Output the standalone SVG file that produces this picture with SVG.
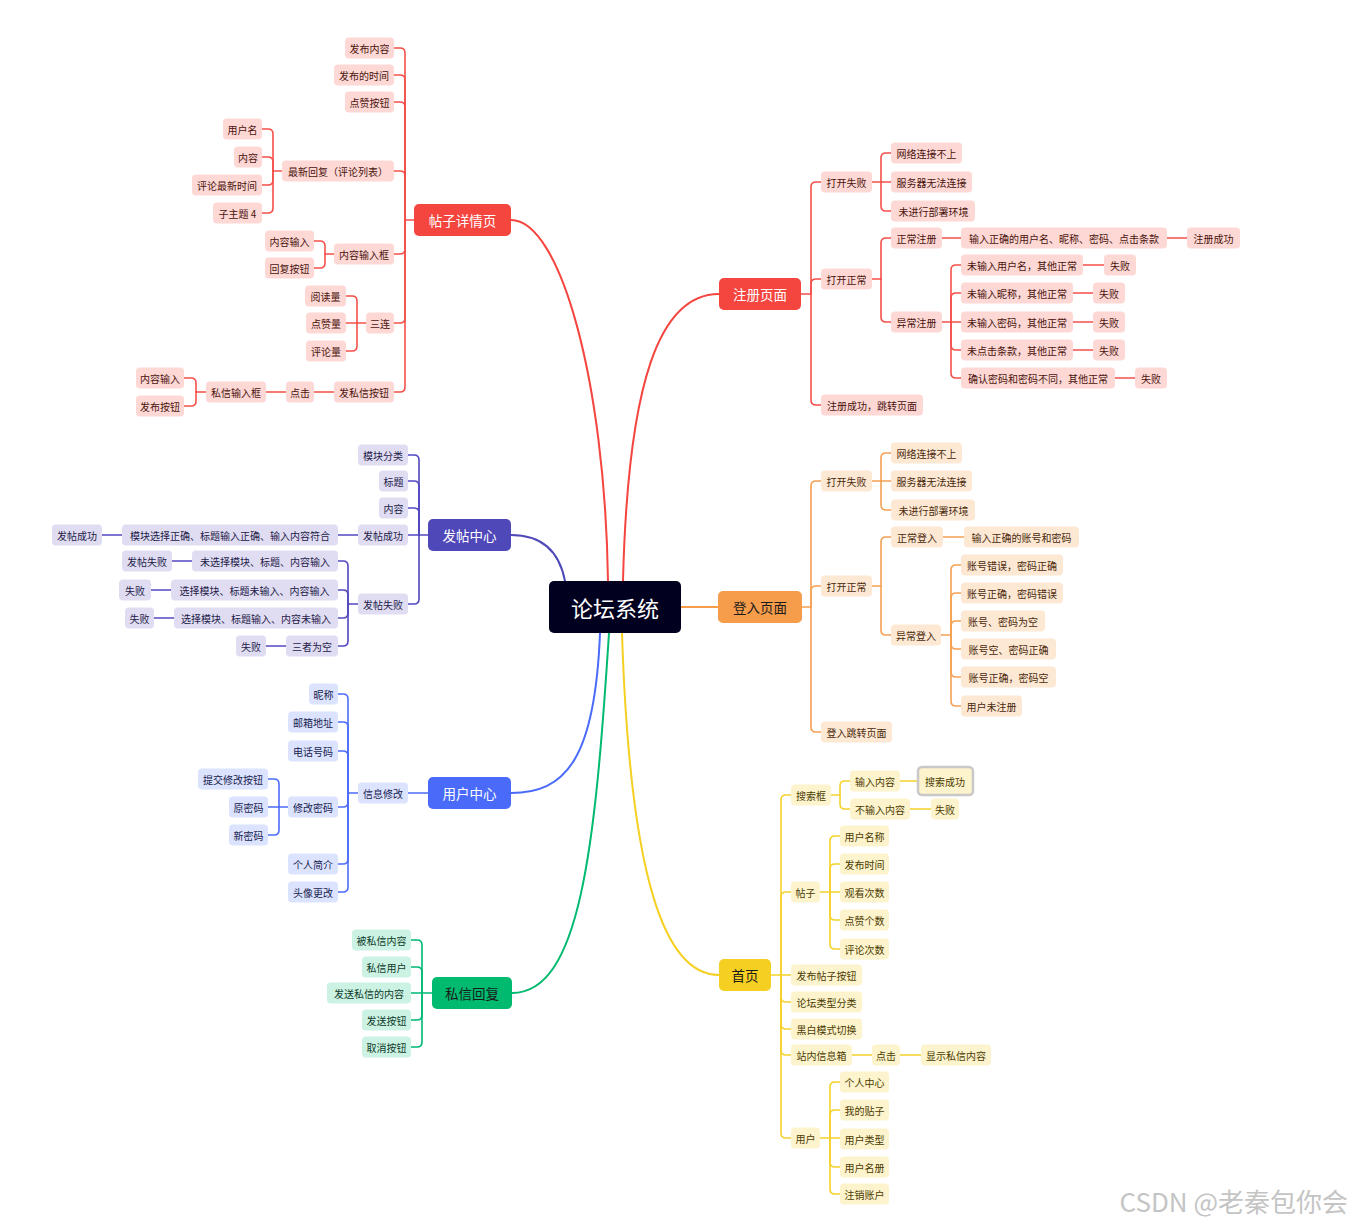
<svg xmlns="http://www.w3.org/2000/svg" width="1352" height="1224" viewBox="0 0 1352 1224">
<style>
text{font-family:"Noto Sans CJK SC","Noto Sans",sans-serif;font-size:10px;text-anchor:middle;dominant-baseline:central}
.s rect{rx:4;ry:4}
.r rect{fill:#fdd8d5}.r text{fill:#4a130c}
.o rect{fill:#fde8d4}.o text{fill:#4a2a0c}
.p rect{fill:#e0ddf3}.p text{fill:#1e1a48}
.b rect{fill:#dce3fe}.b text{fill:#17224f}
.g rect{fill:#ccf2e3}.g text{fill:#0c3a29}
.y rect{fill:#fdf3cc}.y text{fill:#4a3b00}
.m rect{rx:5;ry:5}.m text{font-size:13.5px}
.lw text{fill:#fff}.ld text{fill:#1a1a1a}
#conn path{fill:none;stroke-width:1.6;stroke-linecap:round}
#conn .cr path{stroke:#f4504a}#conn .co path{stroke:#f5a154}#conn .cp path{stroke:#5147c0}
#conn .cb path{stroke:#4d6cfa}#conn .cg path{stroke:#00b874}#conn .cy path{stroke:#f5d22b}
#conn .main path{stroke-width:2}
</style>
<rect width="1352" height="1224" fill="#fff"/>
<g id="conn">
<g class="main">
<path d="M608 581C605 380 560 220 511 220" stroke="#f4453f"/>
<path d="M623 581C628 380 660 294 719 294" stroke="#f4453f"/>
<path d="M565 581C560 555 545 535 511 535" stroke="#4f48b9"/>
<path d="M681 607H718" stroke="#f59d4b"/>
<path d="M600 633C595 760 565 793 511 793" stroke="#4a6bfa"/>
<path d="M609 633C595 850 580 993 512 993" stroke="#00ba6f"/>
<path d="M622 633C630 880 665 975 719 975" stroke="#f5d023"/>
</g>
<g class="cr">
<path d="M414 220H405"/>
<path d="M405 220V53Q405 48 400 48H394"/>
<path d="M405 220V80Q405 75 400 75H394"/>
<path d="M405 220V107Q405 102 400 102H394"/>
<path d="M405 220V176Q405 171 400 171H394"/>
<path d="M405 220V249Q405 254 400 254H394"/>
<path d="M405 220V318Q405 323 400 323H394"/>
<path d="M405 220V387Q405 392 400 392H394"/>
<path d="M282 171H273"/>
<path d="M273 171V134Q273 129 268 129H262"/>
<path d="M273 171V162Q273 157 268 157H262"/>
<path d="M273 171V180Q273 185 268 185H262"/>
<path d="M273 171V208Q273 213 268 213H262"/>
<path d="M334 254H325"/>
<path d="M325 254V246Q325 241 320 241H314"/>
<path d="M325 254V263Q325 268 320 268H314"/>
<path d="M366 323H346"/>
<path d="M357 323V301Q357 296 352 296H346"/>
<path d="M357 323V346Q357 351 352 351H346"/>
<path d="M334 392H314"/>
<path d="M286 392H266"/>
<path d="M206 392H196"/>
<path d="M196 392V383Q196 378 191 378H184"/>
<path d="M196 392V401Q196 406 191 406H184"/>
<path d="M801 294H811"/>
<path d="M811 294V187Q811 182 816 182H821"/>
<path d="M811 294V284Q811 279 816 279H821"/>
<path d="M811 294V400Q811 405 816 405H821"/>
<path d="M872 182H891"/>
<path d="M881 182V158Q881 153 886 153H891"/>
<path d="M881 182V206Q881 211 886 211H891"/>
<path d="M872 279H881"/>
<path d="M881 279V243Q881 238 886 238H891"/>
<path d="M881 279V317Q881 322 886 322H891"/>
<path d="M942 238H961"/>
<path d="M1167 238H1187"/>
<path d="M942 322H961"/>
<path d="M951 322V270Q951 265 956 265H961"/>
<path d="M951 322V298Q951 293 956 293H961"/>
<path d="M951 322V345Q951 350 956 350H961"/>
<path d="M951 322V373Q951 378 956 378H961"/>
<path d="M1083 265H1104"/>
<path d="M1073 293H1093"/>
<path d="M1073 322H1093"/>
<path d="M1073 350H1093"/>
<path d="M1115 378H1135"/>
</g>
<g class="co">
<path d="M802 607H811"/>
<path d="M811 607V486Q811 481 816 481H821"/>
<path d="M811 607V591Q811 586 816 586H821"/>
<path d="M811 607V727Q811 732 816 732H821"/>
<path d="M872 481H891"/>
<path d="M881 481V458Q881 453 886 453H891"/>
<path d="M881 481V505Q881 510 886 510H891"/>
<path d="M872 586H881"/>
<path d="M881 586V542Q881 537 886 537H891"/>
<path d="M881 586V630Q881 635 886 635H891"/>
<path d="M943 537H964"/>
<path d="M941 635H951"/>
<path d="M951 635V570Q951 565 956 565H961"/>
<path d="M951 635V598Q951 593 956 593H961"/>
<path d="M951 635V626Q951 621 956 621H961"/>
<path d="M951 635V644Q951 649 956 649H961"/>
<path d="M951 635V672Q951 677 956 677H961"/>
<path d="M951 635V701Q951 706 956 706H961"/>
</g>
<g class="cp">
<path d="M428 535H408"/>
<path d="M419 535V460Q419 455 414 455H408"/>
<path d="M419 535V486Q419 481 414 481H408"/>
<path d="M419 535V513Q419 508 414 508H408"/>
<path d="M419 535V599Q419 604 414 604H408"/>
<path d="M358 535H338"/>
<path d="M122 535H102"/>
<path d="M358 604H348"/>
<path d="M348 604V566Q348 561 343 561H338"/>
<path d="M348 604V595Q348 590 343 590H338"/>
<path d="M348 604V613Q348 618 343 618H338"/>
<path d="M348 604V641Q348 646 343 646H338"/>
<path d="M192 561H172"/>
<path d="M171 590H151"/>
<path d="M174 618H154"/>
<path d="M286 646H266"/>
</g>
<g class="cb">
<path d="M428 793H408"/>
<path d="M358 793H348"/>
<path d="M348 793V699Q348 694 343 694H338"/>
<path d="M348 793V727Q348 722 343 722H338"/>
<path d="M348 793V756Q348 751 343 751H338"/>
<path d="M348 793V802Q348 807 343 807H338"/>
<path d="M348 793V859Q348 864 343 864H338"/>
<path d="M348 793V887Q348 892 343 892H338"/>
<path d="M288 807H268"/>
<path d="M279 807V784Q279 779 274 779H268"/>
<path d="M279 807V830Q279 835 274 835H268"/>
</g>
<g class="cg">
<path d="M432 993H411"/>
<path d="M422 993V945Q422 940 417 940H411"/>
<path d="M422 993V972Q422 967 417 967H411"/>
<path d="M422 993V1015Q422 1020 417 1020H411"/>
<path d="M422 993V1042Q422 1047 417 1047H411"/>
</g>
<g class="cy">
<path d="M771 975H791"/>
<path d="M781 975V800Q781 795 786 795H791"/>
<path d="M781 975V897Q781 892 786 892H791"/>
<path d="M781 975V997Q781 1002 786 1002H791"/>
<path d="M781 975V1024Q781 1029 786 1029H791"/>
<path d="M781 975V1050Q781 1055 786 1055H791"/>
<path d="M781 975V1133Q781 1138 786 1138H791"/>
<path d="M831 795H840"/>
<path d="M840 795V786Q840 781 845 781H850"/>
<path d="M840 795V804Q840 809 845 809H850"/>
<path d="M900 781H917"/>
<path d="M910 809H931"/>
<path d="M820 892H840"/>
<path d="M830 892V841Q830 836 835 836H840"/>
<path d="M830 892V869Q830 864 835 864H840"/>
<path d="M830 892V915Q830 920 835 920H840"/>
<path d="M830 892V944Q830 949 835 949H840"/>
<path d="M852 1055H872"/>
<path d="M900 1055H921"/>
<path d="M820 1138H840"/>
<path d="M830 1138V1087Q830 1082 835 1082H840"/>
<path d="M830 1138V1115Q830 1110 835 1110H840"/>
<path d="M830 1138V1162Q830 1167 835 1167H840"/>
<path d="M830 1138V1189Q830 1194 835 1194H840"/>
</g>
</g>

<g id="root"><rect x="549" y="581" width="132" height="52" rx="5" fill="#02001f"/><text x="615" y="607" style="font-size:22px" fill="#fff">论坛系统</text></g>

<g id="m_tzxq" class="m lw"><rect x="414" y="204" width="97" height="32" fill="#f4453f"/><text x="462.5" y="220">帖子详情页</text></g>
<g id="m_zcym" class="m lw"><rect x="719" y="278" width="82" height="32" fill="#f4453f"/><text x="760" y="294">注册页面</text></g>
<g id="m_ftzx" class="m lw"><rect x="428" y="519" width="83" height="32" fill="#4f48b9"/><text x="469.5" y="535">发帖中心</text></g>
<g id="m_drym" class="m ld"><rect x="718" y="591" width="84" height="32" fill="#f59d4b"/><text x="760" y="607">登入页面</text></g>
<g id="m_yhzx" class="m lw"><rect x="428" y="777" width="83" height="32" fill="#4a6bfa"/><text x="469.5" y="793">用户中心</text></g>
<g id="m_sxhf" class="m ld"><rect x="432" y="977" width="80" height="32" fill="#00ba6f"/><text x="472" y="993">私信回复</text></g>
<g id="m_sy" class="m ld"><rect x="719" y="959" width="52" height="32" fill="#f5d023"/><text x="745" y="975">首页</text></g>

<g class="s r">
<g id="r1"><rect x="345" y="37.5" width="49" height="21"/><text x="369.5" y="48">发布内容</text></g>
<g id="r2"><rect x="334" y="64.5" width="60" height="21"/><text x="364" y="75">发布的时间</text></g>
<g id="r3"><rect x="345" y="91.5" width="49" height="21"/><text x="369.5" y="102">点赞按钮</text></g>
<g id="r4"><rect x="282" y="160.5" width="112" height="21"/><text x="338" y="171">最新回复（评论列表）</text></g>
<g id="r5"><rect x="223" y="118.5" width="39" height="21"/><text x="242.5" y="129">用户名</text></g>
<g id="r6"><rect x="234" y="146.5" width="28" height="21"/><text x="248" y="157">内容</text></g>
<g id="r7"><rect x="192" y="174.5" width="70" height="21"/><text x="227" y="185">评论最新时间</text></g>
<g id="r8"><rect x="213" y="202.5" width="49" height="21"/><text x="237.5" y="213">子主题 4</text></g>
<g id="r9"><rect x="334" y="243.5" width="60" height="21"/><text x="364" y="254">内容输入框</text></g>
<g id="r10"><rect x="265" y="230.5" width="49" height="21"/><text x="289.5" y="241">内容输入</text></g>
<g id="r11"><rect x="265" y="257.5" width="49" height="21"/><text x="289.5" y="268">回复按钮</text></g>
<g id="r12"><rect x="366" y="312.5" width="28" height="21"/><text x="380" y="323">三连</text></g>
<g id="r13"><rect x="305" y="285.5" width="41" height="21"/><text x="325.5" y="296">阅读量</text></g>
<g id="r14"><rect x="306" y="312.5" width="40" height="21"/><text x="326" y="323">点赞量</text></g>
<g id="r15"><rect x="306" y="340.5" width="40" height="21"/><text x="326" y="351">评论量</text></g>
<g id="r16"><rect x="334" y="381.5" width="60" height="21"/><text x="364" y="392">发私信按钮</text></g>
<g id="r17"><rect x="286" y="381.5" width="28" height="21"/><text x="300" y="392">点击</text></g>
<g id="r18"><rect x="206" y="381.5" width="60" height="21"/><text x="236" y="392">私信输入框</text></g>
<g id="r19"><rect x="136" y="367.5" width="48" height="21"/><text x="160" y="378">内容输入</text></g>
<g id="r20"><rect x="136" y="395.5" width="48" height="21"/><text x="160" y="406">发布按钮</text></g>

<g id="r21"><rect x="821" y="171.5" width="51" height="21"/><text x="846.5" y="182">打开失败</text></g>
<g id="r22"><rect x="891" y="142.5" width="71" height="21"/><text x="926.5" y="153">网络连接不上</text></g>
<g id="r23"><rect x="891" y="171.5" width="81" height="21"/><text x="931.5" y="182">服务器无法连接</text></g>
<g id="r24"><rect x="891" y="200.5" width="84" height="21"/><text x="933.5" y="211">未进行部署环境</text></g>
<g id="r25"><rect x="821" y="268.5" width="51" height="21"/><text x="846.5" y="279">打开正常</text></g>
<g id="r26"><rect x="891" y="227.5" width="51" height="21"/><text x="916.5" y="238">正常注册</text></g>
<g id="r27"><rect x="961" y="227.5" width="206" height="21"/><text x="1064" y="238">输入正确的用户名、昵称、密码、点击条款</text></g>
<g id="r28"><rect x="1187" y="227.5" width="53" height="21"/><text x="1213.5" y="238">注册成功</text></g>
<g id="r29"><rect x="891" y="311.5" width="51" height="21"/><text x="916.5" y="322">异常注册</text></g>
<g id="r30"><rect x="961" y="254.5" width="122" height="21"/><text x="1022" y="265">未输入用户名，其他正常</text></g>
<g id="r31"><rect x="1104" y="254.5" width="32" height="21"/><text x="1120" y="265">失败</text></g>
<g id="r32"><rect x="961" y="282.5" width="112" height="21"/><text x="1017" y="293">未输入昵称，其他正常</text></g>
<g id="r33"><rect x="1093" y="282.5" width="32" height="21"/><text x="1109" y="293">失败</text></g>
<g id="r34"><rect x="961" y="311.5" width="112" height="21"/><text x="1017" y="322">未输入密码，其他正常</text></g>
<g id="r35"><rect x="1093" y="311.5" width="32" height="21"/><text x="1109" y="322">失败</text></g>
<g id="r36"><rect x="961" y="339.5" width="112" height="21"/><text x="1017" y="350">未点击条款，其他正常</text></g>
<g id="r37"><rect x="1093" y="339.5" width="32" height="21"/><text x="1109" y="350">失败</text></g>
<g id="r38"><rect x="961" y="367.5" width="154" height="21"/><text x="1038" y="378">确认密码和密码不同，其他正常</text></g>
<g id="r39"><rect x="1135" y="367.5" width="32" height="21"/><text x="1151" y="378">失败</text></g>
<g id="r40"><rect x="821" y="394.5" width="102" height="21"/><text x="872" y="405">注册成功，跳转页面</text></g>
</g>

<g class="s o">
<g id="o1"><rect x="821" y="470.5" width="51" height="21"/><text x="846.5" y="481">打开失败</text></g>
<g id="o2"><rect x="891" y="442.5" width="71" height="21"/><text x="926.5" y="453">网络连接不上</text></g>
<g id="o3"><rect x="891" y="470.5" width="81" height="21"/><text x="931.5" y="481">服务器无法连接</text></g>
<g id="o4"><rect x="891" y="499.5" width="84" height="21"/><text x="933.5" y="510">未进行部署环境</text></g>
<g id="o5"><rect x="821" y="575.5" width="51" height="21"/><text x="846.5" y="586">打开正常</text></g>
<g id="o6"><rect x="891" y="526.5" width="52" height="21"/><text x="917" y="537">正常登入</text></g>
<g id="o7"><rect x="964" y="526.5" width="115" height="21"/><text x="1021.5" y="537">输入正确的账号和密码</text></g>
<g id="o8"><rect x="891" y="624.5" width="50" height="21"/><text x="916" y="635">异常登入</text></g>
<g id="o9"><rect x="961" y="554.5" width="102" height="21"/><text x="1012" y="565">账号错误，密码正确</text></g>
<g id="o10"><rect x="961" y="582.5" width="102" height="21"/><text x="1012" y="593">账号正确，密码错误</text></g>
<g id="o11"><rect x="961" y="610.5" width="84" height="21"/><text x="1003" y="621">账号、密码为空</text></g>
<g id="o12"><rect x="961" y="638.5" width="95" height="21"/><text x="1008.5" y="649">账号空、密码正确</text></g>
<g id="o13"><rect x="961" y="666.5" width="95" height="21"/><text x="1008.5" y="677">账号正确，密码空</text></g>
<g id="o14"><rect x="961" y="695.5" width="61" height="21"/><text x="991.5" y="706">用户未注册</text></g>
<g id="o15"><rect x="821" y="721.5" width="71" height="21"/><text x="856.5" y="732">登入跳转页面</text></g>
</g>

<g class="s p">
<g id="p1"><rect x="358" y="444.5" width="50" height="21"/><text x="383" y="455">模块分类</text></g>
<g id="p2"><rect x="379" y="470.5" width="29" height="21"/><text x="393.5" y="481">标题</text></g>
<g id="p3"><rect x="379" y="497.5" width="29" height="21"/><text x="393.5" y="508">内容</text></g>
<g id="p4"><rect x="358" y="524.5" width="50" height="21"/><text x="383" y="535">发帖成功</text></g>
<g id="p5"><rect x="122" y="524.5" width="216" height="21"/><text x="230" y="535">模块选择正确、标题输入正确、输入内容符合</text></g>
<g id="p6"><rect x="52" y="524.5" width="50" height="21"/><text x="77" y="535">发帖成功</text></g>
<g id="p7"><rect x="358" y="593.5" width="50" height="21"/><text x="383" y="604">发帖失败</text></g>
<g id="p8"><rect x="192" y="550.5" width="146" height="21"/><text x="265" y="561">未选择模块、标题、内容输入</text></g>
<g id="p9"><rect x="122" y="550.5" width="50" height="21"/><text x="147" y="561">发帖失败</text></g>
<g id="p10"><rect x="171" y="579.5" width="167" height="21"/><text x="254.5" y="590">选择模块、标题未输入、内容输入</text></g>
<g id="p11"><rect x="119" y="579.5" width="32" height="21"/><text x="135" y="590">失败</text></g>
<g id="p12"><rect x="174" y="607.5" width="164" height="21"/><text x="256" y="618">选择模块、标题输入、内容未输入</text></g>
<g id="p13"><rect x="125" y="607.5" width="29" height="21"/><text x="139.5" y="618">失败</text></g>
<g id="p14"><rect x="286" y="635.5" width="52" height="21"/><text x="312" y="646">三者为空</text></g>
<g id="p15"><rect x="236" y="635.5" width="30" height="21"/><text x="251" y="646">失败</text></g>
</g>

<g class="s b">
<g id="b1"><rect x="358" y="782.5" width="50" height="21"/><text x="383" y="793">信息修改</text></g>
<g id="b2"><rect x="309" y="683.5" width="29" height="21"/><text x="323.5" y="694">昵称</text></g>
<g id="b3"><rect x="288" y="711.5" width="50" height="21"/><text x="313" y="722">邮箱地址</text></g>
<g id="b4"><rect x="288" y="740.5" width="50" height="21"/><text x="313" y="751">电话号码</text></g>
<g id="b5"><rect x="288" y="796.5" width="50" height="21"/><text x="313" y="807">修改密码</text></g>
<g id="b6"><rect x="288" y="853.5" width="50" height="21"/><text x="313" y="864">个人简介</text></g>
<g id="b7"><rect x="288" y="881.5" width="50" height="21"/><text x="313" y="892">头像更改</text></g>
<g id="b8"><rect x="198" y="768.5" width="70" height="21"/><text x="233" y="779">提交修改按钮</text></g>
<g id="b9"><rect x="229" y="796.5" width="39" height="21"/><text x="248.5" y="807">原密码</text></g>
<g id="b10"><rect x="229" y="824.5" width="39" height="21"/><text x="248.5" y="835">新密码</text></g>
</g>

<g class="s g">
<g id="g1"><rect x="352" y="929.5" width="59" height="21"/><text x="381.5" y="940">被私信内容</text></g>
<g id="g2"><rect x="362" y="956.5" width="49" height="21"/><text x="386.5" y="967">私信用户</text></g>
<g id="g3"><rect x="327" y="982.5" width="84" height="21"/><text x="369" y="993">发送私信的内容</text></g>
<g id="g4"><rect x="362" y="1009.5" width="49" height="21"/><text x="386.5" y="1020">发送按钮</text></g>
<g id="g5"><rect x="362" y="1036.5" width="49" height="21"/><text x="386.5" y="1047">取消按钮</text></g>
</g>

<g class="s y">
<g id="y1"><rect x="791" y="784.5" width="40" height="21"/><text x="811" y="795">搜索框</text></g>
<g id="y2"><rect x="850" y="770.5" width="50" height="21"/><text x="875" y="781">输入内容</text></g>
<g id="y3"><rect x="918" y="767" width="55" height="28" rx="5" fill="none" stroke="#c8c8c8" stroke-width="2.5"/><rect x="921" y="770.5" width="48" height="21"/><text x="945" y="781">搜索成功</text></g>
<g id="y4"><rect x="850" y="798.5" width="60" height="21"/><text x="880" y="809">不输入内容</text></g>
<g id="y5"><rect x="931" y="798.5" width="28" height="21"/><text x="945" y="809">失败</text></g>
<g id="y6"><rect x="791" y="881.5" width="29" height="21"/><text x="805.5" y="892">帖子</text></g>
<g id="y7"><rect x="840" y="825.5" width="49" height="21"/><text x="864.5" y="836">用户名称</text></g>
<g id="y8"><rect x="840" y="853.5" width="49" height="21"/><text x="864.5" y="864">发布时间</text></g>
<g id="y9"><rect x="840" y="881.5" width="49" height="21"/><text x="864.5" y="892">观看次数</text></g>
<g id="y10"><rect x="840" y="909.5" width="49" height="21"/><text x="864.5" y="920">点赞个数</text></g>
<g id="y11"><rect x="840" y="938.5" width="49" height="21"/><text x="864.5" y="949">评论次数</text></g>
<g id="y12"><rect x="791" y="964.5" width="71" height="21"/><text x="826.5" y="975">发布帖子按钮</text></g>
<g id="y13"><rect x="791" y="991.5" width="71" height="21"/><text x="826.5" y="1002">论坛类型分类</text></g>
<g id="y14"><rect x="791" y="1018.5" width="71" height="21"/><text x="826.5" y="1029">黑白模式切换</text></g>
<g id="y15"><rect x="791" y="1044.5" width="61" height="21"/><text x="821.5" y="1055">站内信息箱</text></g>
<g id="y16"><rect x="872" y="1044.5" width="28" height="21"/><text x="886" y="1055">点击</text></g>
<g id="y17"><rect x="921" y="1044.5" width="70" height="21"/><text x="956" y="1055">显示私信内容</text></g>
<g id="y18"><rect x="791" y="1127.5" width="29" height="21"/><text x="805.5" y="1138">用户</text></g>
<g id="y19"><rect x="840" y="1071.5" width="49" height="21"/><text x="864.5" y="1082">个人中心</text></g>
<g id="y20"><rect x="840" y="1099.5" width="49" height="21"/><text x="864.5" y="1110">我的贴子</text></g>
<g id="y21"><rect x="840" y="1128.5" width="49" height="21"/><text x="864.5" y="1139">用户类型</text></g>
<g id="y22"><rect x="840" y="1156.5" width="49" height="21"/><text x="864.5" y="1167">用户名册</text></g>
<g id="y23"><rect x="840" y="1183.5" width="49" height="21"/><text x="864.5" y="1194">注销账户</text></g>
</g>

<text x="1348" y="1200" style="font-size:26px;text-anchor:end;fill:#c4c4c4">CSDN @老秦包你会</text>
</svg>
